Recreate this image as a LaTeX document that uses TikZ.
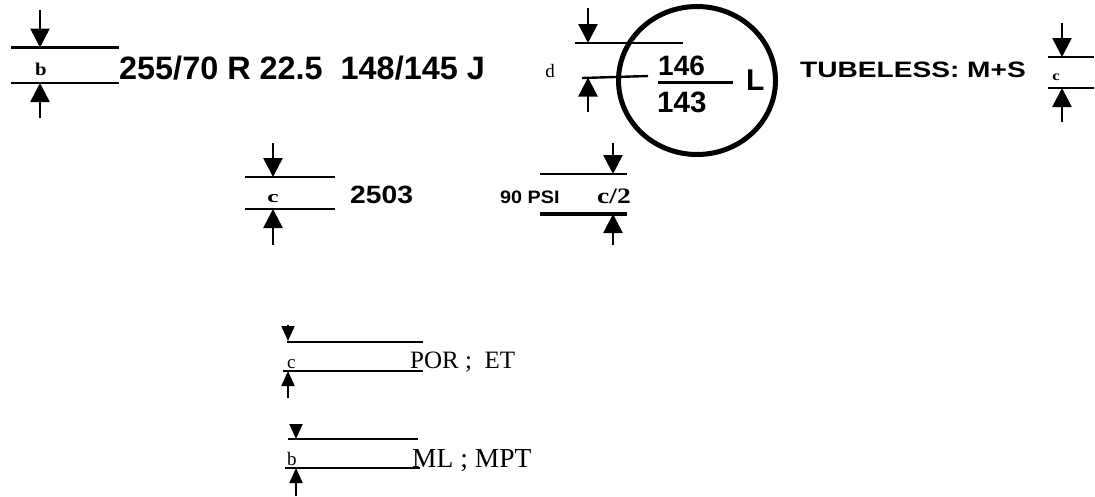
\documentclass[tikz,border=0pt]{standalone}
\usepackage{fontspec}
\usepackage{graphicx}
\setmainfont{Liberation Serif}
\newfontfamily\arial{Liberation Sans}
\usetikzlibrary{arrows.meta}
\tikzset{
  bigarr/.style={line width=2.6pt,-{Triangle[width=19pt,length=19pt]}},
  smallarr/.style={line width=2pt,-{Triangle[width=13pt,length=15pt]}},
  dimline/.style={line width=2.8pt},
  thinline/.style={line width=2pt},
  bigtxt/.style={inner sep=0pt,anchor=base west,font=\arial\bfseries},
  lbl/.style={inner sep=0pt,anchor=base,font=\bfseries},
  ser/.style={inner sep=0pt,anchor=base west}
}
\begin{document}
\begin{tikzpicture}[x=1pt,y=-1pt]
\useasboundingbox (0,0) rectangle (1095,496);
% ---- top-left b group
\draw[bigarr] (40,10) -- (40,47.5);
\draw[dimline] (11,47.5) -- (119,47.5);
\draw[dimline] (11,83) -- (119,83);
\draw[bigarr] (40,118) -- (40,83);
\node[lbl,font=\fontsize{18}{21}\selectfont\bfseries] (b1) at (41,75) {\scalebox{1.15}[1]{b}};
\node[bigtxt,font=\arial\bfseries\fontsize{32.4}{38}\selectfont] (size) at (119,79) {255/70 R 22.5\ \ 148/145 J};
% ---- d group with circle
\draw[bigarr] (588,8) -- (588,43);
\draw[dimline] (575,43) -- (683,43);
\draw[line width=2.4pt] (582,78) -- (648,76);
\draw[bigarr] (588,112) -- (588,77.5);
\node[lbl,font=\fontsize{19}{22}\selectfont] (d) at (550,77) {d};
\draw[line width=5pt] (697,80.5) ellipse [x radius=78.5, y radius=74];
\node[bigtxt,font=\arial\bfseries\fontsize{28}{32}\selectfont] (n146) at (658,75) {146};
\draw[line width=3pt] (658,82) -- (733,82);
\node[bigtxt,font=\arial\bfseries\fontsize{29.5}{34}\selectfont] (n143) at (657,112) {143};
\node[bigtxt,font=\arial\bfseries\fontsize{30}{34}\selectfont] (L) at (746,90) {L};
% ---- tubeless
\node[bigtxt,font=\arial\bfseries\fontsize{22.3}{26}\selectfont] (tube) at (800,77) {\scalebox{1.26}[1]{TUBELESS: M+S}};
\draw[bigarr] (1062,23) -- (1062,57);
\draw[dimline] (1048,57) -- (1094,57);
\draw[dimline] (1048,88) -- (1094,88);
\draw[bigarr] (1062,122) -- (1062,88);
\node[lbl,font=\fontsize{14}{16}\selectfont\bfseries] (c1) at (1056,80) {\scalebox{1.2}[1]{c}};
% ---- middle c group
\draw[bigarr] (273,143) -- (273,177);
\draw[dimline] (245,177) -- (335,177);
\draw[dimline] (245,209) -- (335,209);
\draw[bigarr] (273,245) -- (273,209);
\node[lbl,font=\fontsize{17}{20}\selectfont\bfseries] (c2) at (273,202) {\scalebox{1.5}[1]{c}};
\node[bigtxt,font=\arial\bfseries\fontsize{25}{30}\selectfont] (n2503) at (350,203) {\scalebox{1.13}[1]{2503}};
% ---- c/2 group
\draw[bigarr] (613,143) -- (613,174);
\draw[dimline] (540,174) -- (627,174);
\draw[line width=4pt] (540,214) -- (627,214);
\draw[bigarr] (613,245) -- (613,214);
\node[bigtxt,font=\arial\bfseries\fontsize{18}{21}\selectfont] (psi) at (500,203) {\scalebox{1.1}[1]{90 PSI}};
\node[ser,font=\fontsize{22}{26}\selectfont\bfseries] (c3) at (597,203) {\scalebox{1.25}[1]{c/2}};
% ---- lower group 1
\draw[smallarr] (288,325) -- (288,341);
\draw[thinline] (287,342) -- (423,342);
\draw[thinline] (283,371) -- (423,371);
\draw[smallarr] (288,398) -- (288,371);
\node[ser,font=\fontsize{19}{22}\selectfont] (c4) at (287,368) {c};
\node[ser,font=\fontsize{25}{30}\selectfont] (por) at (410,368) {POR ;\ \ ET};
% ---- lower group 2
\draw[smallarr] (296,425) -- (296,439);
\draw[thinline] (288,439) -- (418,439);
\draw[thinline] (285,468) -- (420,468);
\draw[smallarr] (296,496) -- (296,468);
\node[ser,font=\fontsize{19}{22}\selectfont] (b2) at (287,465) {b};
\node[ser,font=\fontsize{27.5}{32}\selectfont] (ml) at (412,467) {ML ; MPT};
\end{tikzpicture}
\end{document}
